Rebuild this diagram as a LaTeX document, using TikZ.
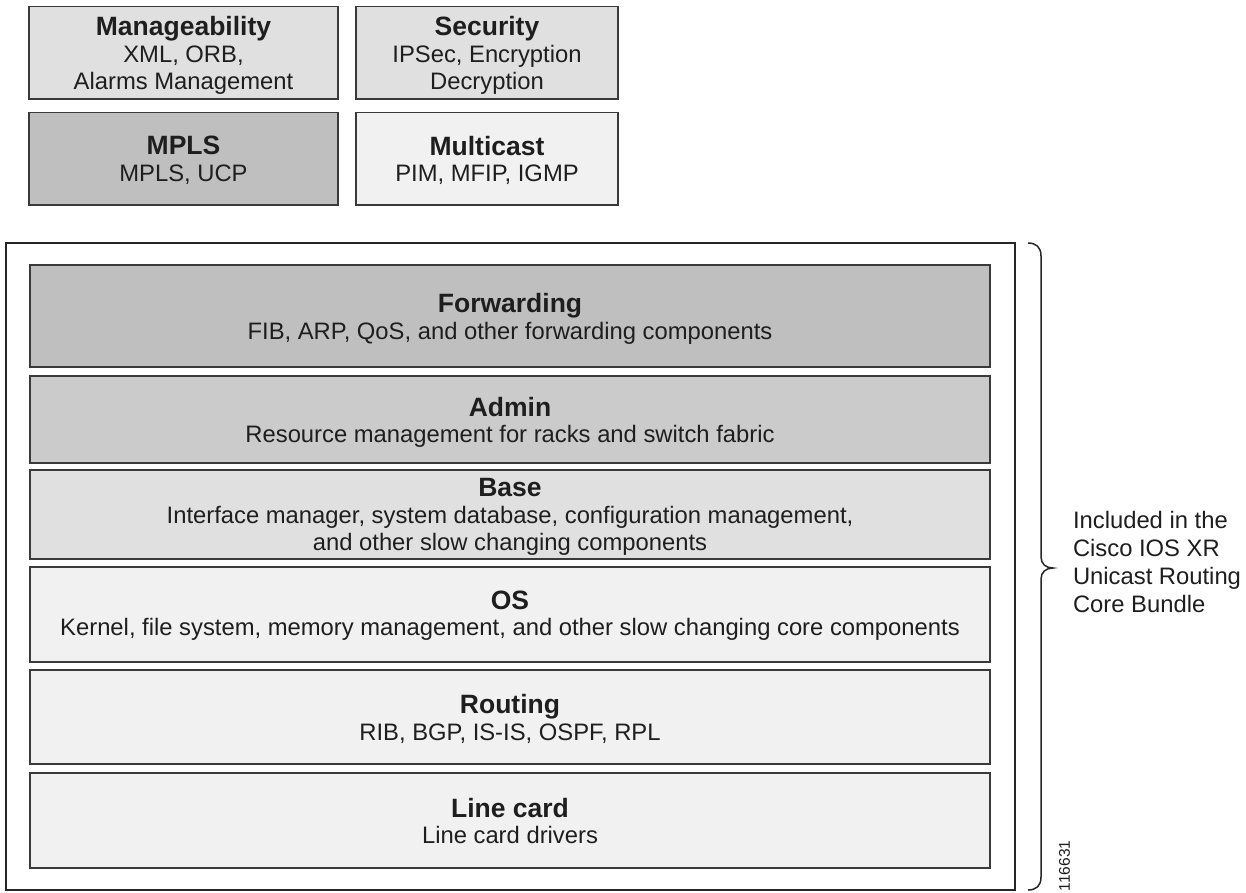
\documentclass[tikz,border=0pt]{standalone}
\usepackage{fontspec}
\setmainfont{Liberation Sans}
\definecolor{txt}{HTML}{1E1E1E}
\definecolor{edge}{HTML}{3A3A3A}
\definecolor{outer}{HTML}{262626}
\definecolor{cA}{HTML}{E0E0E0}
\definecolor{cB}{HTML}{BFBFBF}
\definecolor{cC}{HTML}{CBCBCB}
\definecolor{cD}{HTML}{F1F1F1}
\newcommand{\boxtitle}[1]{{\fontsize{26.5}{26.7}\selectfont\bfseries #1}}
\begin{document}
\begin{tikzpicture}[x=1pt,y=-1pt,
  every node/.style={inner sep=0pt, outer sep=0pt, text=txt},
  box/.style={draw=edge, line width=1.5pt, anchor=north west},
  txtblock/.style={anchor=north, align=center, font=\fontsize{23.8}{26.7}\selectfont},
  bracestyle/.style={draw=outer, line width=1.5pt},
]
\useasboundingbox (0,0) rectangle (1246,892);

% top boxes
\node[box, fill=cA, minimum width=309pt, minimum height=92.3pt] (mgt) at (29,6.7) {};
\node[box, fill=cA, minimum width=262pt, minimum height=92.3pt] (sec) at (356,6.7) {};
\node[box, fill=cB, minimum width=309pt, minimum height=92.3pt] (mpls) at (29,112.7) {};
\node[box, fill=cD, minimum width=262pt, minimum height=92.3pt] (mcast) at (356,112.7) {};

\node[txtblock] (mgt-t) at (183.5,16.5) {\boxtitle{Manageability}\\XML, ORB,\\Alarms Management};
\node[txtblock] (sec-t) at (487,16.5) {\boxtitle{Security}\\IPSec, Encryption\\Decryption};
\node[txtblock] (mpls-t) at (183.5,136) {\boxtitle{MPLS}\\MPLS, UCP};
\node[txtblock] (mcast-t) at (487,136) {\boxtitle{Multicast}\\PIM, MFIP, IGMP};

% outer bundle box
\node[draw=outer, line width=2pt, fill=white, anchor=north west, minimum width=1009pt, minimum height=647pt] (bundle) at (6,243) {};

% layers
\node[box, fill=cB, minimum width=960pt, minimum height=102pt] (fwd) at (30,265) {};
\node[box, fill=cC, minimum width=960pt, minimum height=87pt] (adm) at (30,376) {};
\node[box, fill=cA, minimum width=960pt, minimum height=89pt] (base) at (30,470) {};
\node[box, fill=cD, minimum width=960pt, minimum height=95pt] (os) at (30,567) {};
\node[box, fill=cD, minimum width=960pt, minimum height=94pt] (rt) at (30,670) {};
\node[box, fill=cD, minimum width=960pt, minimum height=95pt] (lc) at (30,773) {};

\node[txtblock] (fwd-t) at (510,293.5) {\boxtitle{Forwarding}\\FIB, ARP, QoS, and other forwarding components};
\node[txtblock] (adm-t) at (510,397) {\boxtitle{Admin}\\Resource management for racks and switch fabric};
\node[txtblock] (base-t) at (510,478.5) {\boxtitle{Base}\\Interface manager, system database, configuration management,\\and other slow changing components};
\node[txtblock] (os-t) at (510,590.5) {\boxtitle{OS}\\Kernel, file system, memory management, and other slow changing core components};
\node[txtblock] (rt-t) at (510,694.4) {\boxtitle{Routing}\\RIB, BGP, IS-IS, OSPF, RPL};
\node[txtblock] (lc-t) at (510,798) {\boxtitle{Line card}\\Line card drivers};

% brace
\draw[bracestyle] (1028,243) .. controls (1036,243) and (1041,247) .. (1041,256)
  -- (1041,557) .. controls (1041,564) and (1046,568) .. (1053,568)
  .. controls (1046,568) and (1041,572) .. (1041,579)
  -- (1041,877) .. controls (1041,886) and (1036,890) .. (1028,890);

\node[anchor=north west, align=left, font=\fontsize{23.8}{28}\selectfont] (note) at (1073,511)
  {Included in the\\Cisco IOS XR\\Unicast Routing\\Core Bundle};

\node[rotate=90, font=\fontsize{15.5}{15.5}\selectfont] (fig-id) at (1064.5,866) {116631};
\end{tikzpicture}
\end{document}
